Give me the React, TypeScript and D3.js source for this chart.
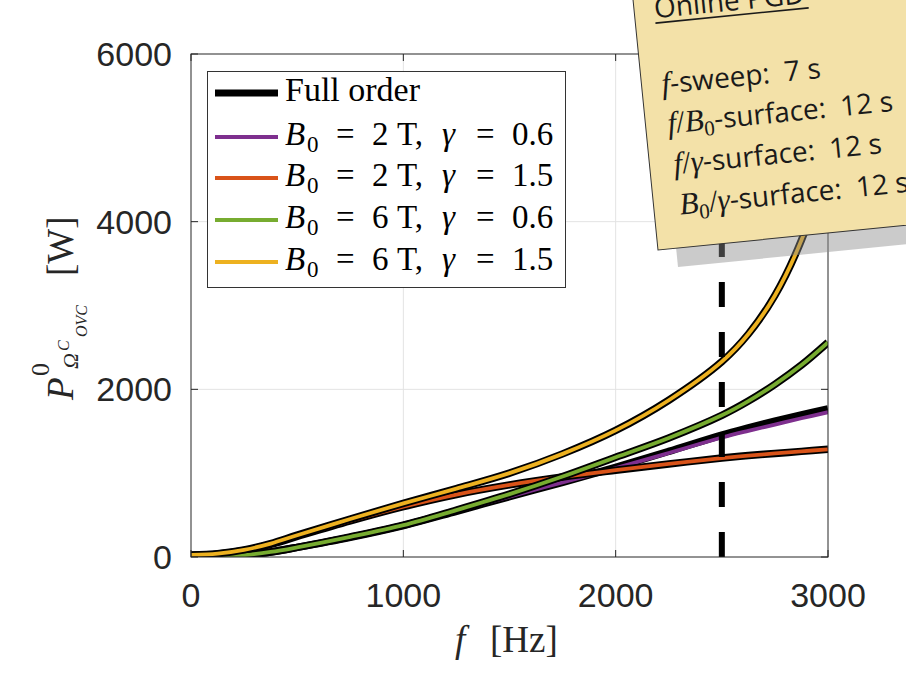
import React from 'react';
import * as d3 from 'd3';

// ---- data ----
const freq = [0, 125, 250, 375, 500, 750, 1000, 1250, 1500, 1750, 2000, 2250, 2500, 2625, 2750, 2875, 3000];

const romPurple = [0, 5, 22, 60, 115, 235, 375, 545, 720, 890, 1060, 1240, 1425, 1505, 1580, 1655, 1727];
const romOrange = [20, 35, 78, 150, 245, 430, 600, 745, 860, 955, 1035, 1110, 1180, 1210, 1235, 1260, 1285];
const romGreen = [0, 5, 22, 60, 115, 240, 380, 560, 750, 960, 1190, 1420, 1690, 1860, 2060, 2290, 2560];
const romYellow = [25, 40, 85, 160, 260, 453, 640, 815, 1000, 1230, 1510, 1870, 2330, 2660, 3120, 3780, 4720];

const fullPurple = [0, 5, 22, 60, 115, 235, 375, 545, 720, 890, 1070, 1260, 1455, 1540, 1620, 1695, 1765];
const fullOrange = [20, 35, 78, 150, 245, 430, 600, 745, 860, 955, 1035, 1110, 1180, 1210, 1235, 1260, 1285];
const fullGreen = [0, 5, 22, 60, 115, 240, 380, 560, 750, 960, 1190, 1420, 1690, 1860, 2060, 2290, 2560];
const fullYellow = [25, 40, 85, 160, 260, 453, 640, 815, 1000, 1230, 1510, 1870, 2330, 2660, 3120, 3780, 4720];

const legendB0 = ['2', '2', '6', '6'];
const legendGamma = ['0.6', '1.5', '0.6', '1.5'];
const seriesColors = ['#7E2F8E', '#D95319', '#77AC30', '#EDB120'];

const xTicks = [0, 1000, 2000, 3000];
const yTicks = [0, 2000, 4000, 6000];
const markerFreq = 2500;

const noteTimes = ['7 s', '12 s', '12 s', '12 s'];

const AX = '#262626';
const SERIF = '"Liberation Serif", "Times New Roman", serif';
const SANS = '"Liberation Sans", Arial, sans-serif';
const NOTE = '"Open Sans", "Noto Sans", sans-serif';
const NB = '\u00a0';

export default function App() {
  const x = d3.scaleLinear().domain([0, 3000]).range([191, 828]);
  const y = d3.scaleLinear().domain([0, 6000]).range([557, 54]);
  const mk = (vals: number[]) =>
    d3
      .line<number>()
      .x((_, i) => x(freq[i]))
      .y((d) => y(d))
      .curve(d3.curveCatmullRom.alpha(0.5))(vals) as string;

  const roms = [romPurple, romOrange, romGreen, romYellow];
  const fulls = [fullPurple, fullOrange, fullGreen, fullYellow];

  const [x0, x1] = x.range();
  const [yb, yt] = y.range();

  const legendRowsY = [93, 137, 178, 220, 262];

  const noteItem = (i: number, by: number) => {
    const common = { fontFamily: NOTE, fontSize: 28, fill: '#1a1a1a' } as any;
    const mathIt = { fontFamily: SERIF, fontStyle: 'italic', fontSize: 31 } as any;
    const sub = { fontFamily: SERIF, fontSize: 21 } as any;
    const tail = `-surface:${NB}${NB}${noteTimes[i]}`;
    if (i === 0)
      return (
        <text key={i} x={20} y={by} {...common}>
          <tspan {...mathIt}>f</tspan>
          <tspan>{`-sweep:${NB}${NB}${noteTimes[i]}`}</tspan>
        </text>
      );
    if (i === 1)
      return (
        <text key={i} x={22} y={by} {...common}>
          <tspan {...mathIt}>f</tspan>
          <tspan fontFamily={SERIF} fontSize={31}>/</tspan>
          <tspan {...mathIt}>B</tspan>
          <tspan {...sub} dy={6}>0</tspan>
          <tspan dy={-6}>{tail}</tspan>
        </text>
      );
    if (i === 2)
      return (
        <text key={i} x={24} y={by} {...common}>
          <tspan {...mathIt}>f</tspan>
          <tspan fontFamily={SERIF} fontSize={31}>/</tspan>
          <tspan {...mathIt}>γ</tspan>
          <tspan>{tail}</tspan>
        </text>
      );
    return (
      <text key={i} x={26} y={by} {...common}>
        <tspan {...mathIt}>B</tspan>
        <tspan {...sub} dy={6}>0</tspan>
        <tspan fontFamily={SERIF} fontSize={31} dy={-6}>/</tspan>
        <tspan {...mathIt}>γ</tspan>
        <tspan>{tail}</tspan>
      </text>
    );
  };

  return (
    <svg
      width={906}
      height={676}
      style={{ position: 'fixed', left: 0, top: 0, background: '#fff' }}
    >
      <defs>
        <clipPath id="plotclip">
          <rect x={x0} y={yt} width={x1 - x0} height={yb - yt} />
        </clipPath>
      </defs>
      <rect x={0} y={0} width={906} height={676} fill="#fff" />

      {/* grid */}
      {xTicks.slice(1, -1).map((t) => (
        <line key={'gx' + t} x1={x(t)} x2={x(t)} y1={yb} y2={yt} stroke="#e3e3e3" strokeWidth={1} />
      ))}
      {yTicks.slice(1, -1).map((t) => (
        <line key={'gy' + t} x1={x0} x2={x1} y1={y(t)} y2={y(t)} stroke="#e3e3e3" strokeWidth={1} />
      ))}

      {/* curves */}
      <g clipPath="url(#plotclip)" fill="none" strokeLinecap="butt" strokeLinejoin="round">
        {roms.map((r, i) => (
          <g key={'s' + i}>
            <path d={mk(fulls[i])} stroke="#000" strokeWidth={7.5} />
            <path d={mk(r)} stroke={seriesColors[i]} strokeWidth={3.8} />
          </g>
        ))}
      </g>

      {/* dashed marker */}
      <line
        x1={x(markerFreq)}
        x2={x(markerFreq)}
        y1={y(0)}
        y2={y(6000)}
        stroke="#000"
        strokeWidth={6}
        strokeDasharray="25 25"
      />

      {/* frame */}
      <rect x={x0} y={yt} width={x1 - x0} height={yb - yt} fill="none" stroke={AX} strokeWidth={1} />
      {xTicks.map((t) => (
        <g key={'tx' + t}>
          <line x1={x(t)} x2={x(t)} y1={yb} y2={yb - 7} stroke={AX} />
          <line x1={x(t)} x2={x(t)} y1={yt} y2={yt + 7} stroke={AX} />
          <text x={x(t)} y={607} textAnchor="middle" fontFamily={SANS} fontSize={34} fill={AX}>
            {t}
          </text>
        </g>
      ))}
      {yTicks.map((t) => (
        <g key={'ty' + t}>
          <line x1={x0} x2={x0 + 7} y1={y(t)} y2={y(t)} stroke={AX} />
          <line x1={x1} x2={x1 - 7} y1={y(t)} y2={y(t)} stroke={AX} />
          <text x={172} y={y(t) + 12} textAnchor="end" fontFamily={SANS} fontSize={34} fill={AX}>
            {t}
          </text>
        </g>
      ))}

      {/* x label */}
      <text x={455} y={652} fontFamily={SERIF} fontSize={37} fill={AX}>
        <tspan fontStyle="italic">f</tspan>
        <tspan x={490}>[Hz]</tspan>
      </text>

      {/* y label */}
      <g transform="translate(73,400) rotate(-90)" fill={AX} fontFamily={SERIF}>
        <text x={0} y={0} fontSize={37} fontStyle="italic">P</text>
        <text x={24} y={-24} fontSize={26}>0</text>
        <text x={31} y={5} fontSize={22} fontStyle="italic">Ω</text>
        <text x={49} y={-4} fontSize={16} fontStyle="italic">C</text>
        <text x={63} y={14} fontSize={16} fontStyle="italic">OVC</text>
        <text x={124} y={0} fontSize={37}>[W]</text>
      </g>

      {/* legend */}
      <rect x={207.5} y={71.5} width={358} height={216} fill="#fff" stroke="#333" strokeWidth={1} />
      <line x1={215} x2={278} y1={legendRowsY[0]} y2={legendRowsY[0]} stroke="#000" strokeWidth={7} />
      <text x={285} y={legendRowsY[0] + 8} fontFamily={SERIF} fontSize={34} fill="#000">
        Full order
      </text>
      {seriesColors.map((c, i) => {
        const ry = legendRowsY[i + 1];
        const bx = 285;
        const by = ry + 8;
        return (
          <g key={'lg' + i} fontFamily={SERIF} fill="#000">
            <line x1={215} x2={278} y1={ry} y2={ry} stroke={c} strokeWidth={3.8} />
            <text x={bx} y={by} fontSize={33} fontStyle="italic">B</text>
            <text x={bx + 22} y={by + 7} fontSize={23}>0</text>
            <text x={bx + 51} y={by} fontSize={33}>=</text>
            <text x={bx + 87} y={by} fontSize={33}>{legendB0[i]}</text>
            <text x={bx + 112} y={by} fontSize={33}>T,</text>
            <text x={bx + 157} y={by} fontSize={33} fontStyle="italic">γ</text>
            <text x={bx + 191} y={by} fontSize={33}>=</text>
            <text x={bx + 227} y={by} fontSize={33}>{legendGamma[i]}</text>
          </g>
        );
      })}

      {/* note with shadow */}
      <g transform="translate(678,267) rotate(-5.7)">
        <rect x={0} y={-420} width={420} height={420} fill="rgba(140,140,140,0.45)" />
      </g>
      <g transform="translate(658,250) rotate(-5.7)">
        <rect x={0} y={-420} width={420} height={420} fill="#f3e1a8" stroke="#333" strokeWidth={1} />
        <text x={20} y={-231} fontFamily={NOTE} fontSize={28} fill="#1a1a1a">
          Online PGD
        </text>
        <line x1={20} x2={174} y1={-226} y2={-226} stroke="#1a1a1a" strokeWidth={1.6} />
        {noteTimes.map((_, i) => noteItem(i, [-155, -115, -74, -33][i]))}
      </g>
    </svg>
  );
}
